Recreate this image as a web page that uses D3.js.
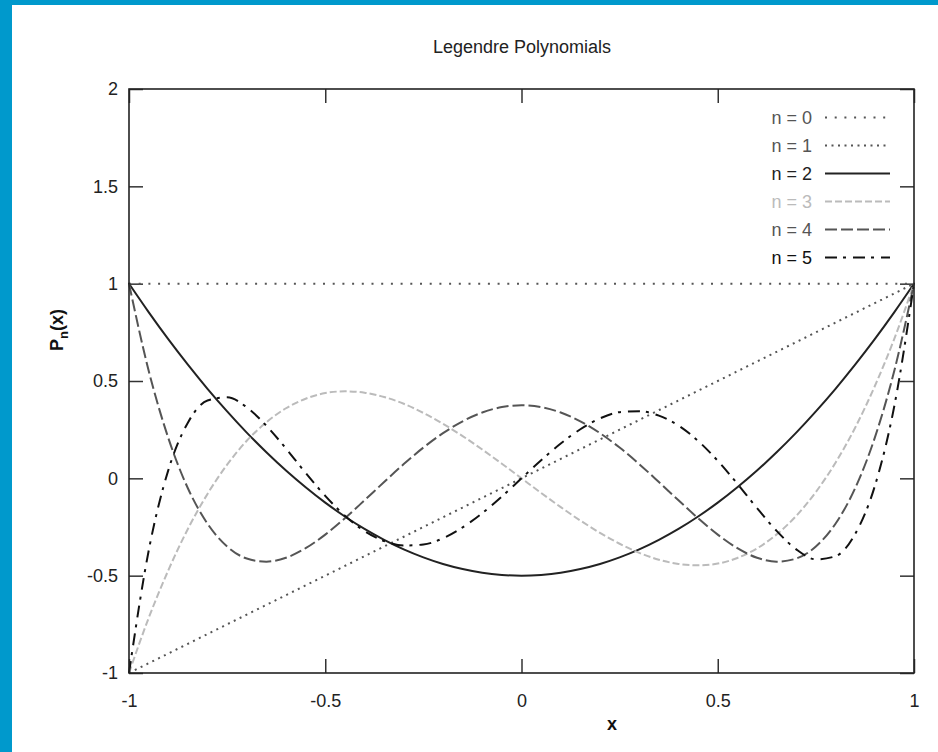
<!DOCTYPE html>
<html>
<head>
<meta charset="utf-8">
<script src="https://cdn.jsdelivr.net/npm/d3@7"></script>
<style>
  html, body { margin: 0; padding: 0; background: #fff; }
  svg { display: block; font-family: "Liberation Sans", Arial, sans-serif; }
</style>
</head>
<body>
<svg id="chart" width="938" height="752"></svg>
<script>
// sample positions along x
var xs = [-1, -0.95, -0.9, -0.85, -0.8, -0.75, -0.7, -0.65, -0.6, -0.55, -0.5, -0.45, -0.4, -0.35, -0.3, -0.25, -0.2, -0.15, -0.1, -0.05,
  0, 0.05, 0.1, 0.15, 0.2, 0.25, 0.3, 0.35, 0.4, 0.45, 0.5, 0.55, 0.6, 0.65, 0.7, 0.75, 0.8, 0.85, 0.9, 0.95, 1];

var p0 = [1, 1, 1, 1, 1, 1, 1, 1, 1, 1, 1, 1, 1, 1, 1, 1, 1, 1, 1, 1,
  1, 1, 1, 1, 1, 1, 1, 1, 1, 1, 1, 1, 1, 1, 1, 1, 1, 1, 1, 1, 1];
var p1 = [-1, -0.95, -0.9, -0.85, -0.8, -0.75, -0.7, -0.65, -0.6, -0.55, -0.5, -0.45, -0.4, -0.35, -0.3, -0.25, -0.2, -0.15, -0.1, -0.05,
  0, 0.05, 0.1, 0.15, 0.2, 0.25, 0.3, 0.35, 0.4, 0.45, 0.5, 0.55, 0.6, 0.65, 0.7, 0.75, 0.8, 0.85, 0.9, 0.95, 1];
var p2 = [1, 0.854, 0.715, 0.584, 0.46, 0.344, 0.235, 0.134, 0.04, -0.046, -0.125, -0.196, -0.26, -0.316, -0.365, -0.406, -0.44, -0.466, -0.485, -0.496,
  -0.5, -0.496, -0.485, -0.466, -0.44, -0.406, -0.365, -0.316, -0.26, -0.196, -0.125, -0.046, 0.04, 0.134, 0.235, 0.344, 0.46, 0.584, 0.715, 0.854, 1];
var p3 = [-1, -0.718, -0.473, -0.26, -0.08, 0.07, 0.193, 0.288, 0.36, 0.409, 0.438, 0.447, 0.44, 0.418, 0.383, 0.336, 0.28, 0.217, 0.148, 0.075,
  0, -0.075, -0.148, -0.217, -0.28, -0.336, -0.383, -0.418, -0.44, -0.447, -0.438, -0.409, -0.36, -0.288, -0.193, -0.07, 0.08, 0.26, 0.473, 0.718, 1];
var p4 = [1, 0.554, 0.208, -0.051, -0.233, -0.35, -0.412, -0.428, -0.408, -0.359, -0.289, -0.205, -0.113, -0.019, 0.073, 0.158, 0.232, 0.293, 0.338, 0.366,
  0.375, 0.366, 0.338, 0.293, 0.232, 0.158, 0.073, -0.019, -0.113, -0.205, -0.289, -0.359, -0.408, -0.428, -0.412, -0.35, -0.233, -0.051, 0.208, 0.554, 1];
var p5 = [-1, -0.373, 0.041, 0.286, 0.4, 0.416, 0.365, 0.27, 0.153, 0.028, -0.09, -0.192, -0.271, -0.322, -0.345, -0.34, -0.308, -0.252, -0.179, -0.093,
  0, 0.093, 0.179, 0.252, 0.308, 0.34, 0.345, 0.322, 0.271, 0.192, 0.09, -0.028, -0.153, -0.27, -0.365, -0.416, -0.4, -0.286, -0.041, 0.373, 1];

var seriesLabels = ['n = 0', 'n = 1', 'n = 2', 'n = 3', 'n = 4', 'n = 5'];
var seriesValues = [p0, p1, p2, p3, p4, p5];

var xTicks = [-1, -0.5, 0, 0.5, 1];
var yTicks = [-1, -0.5, 0, 0.5, 1, 1.5, 2];

var styles = [
  { color: '#555', width: 2, dash: '2,7.7' },
  { color: '#555', width: 2, dash: '2,4.5' },
  { color: '#222', width: 2, dash: null },
  { color: '#bbb', width: 2, dash: '7,3' },
  { color: '#555', width: 2, dash: '12,4' },
  { color: '#111', width: 2, dash: '12,6,3,7' }
];

var svg = d3.select('#chart');
var W = 938, H = 752;
var plot = { left: 129, top: 89, right: 914, bottom: 673 };
var fontSize = '18px';

svg.append('rect').attr('width', W).attr('height', H).attr('fill', '#fff');
svg.append('rect').attr('x', 0).attr('y', 0).attr('width', 12).attr('height', H).attr('fill', '#0099cc');
svg.append('rect').attr('x', 0).attr('y', 0).attr('width', W).attr('height', 5).attr('fill', '#0099cc');

var xScale = d3.scaleLinear().domain([-1, 1]).range([plot.left, plot.right]);
var yScale = d3.scaleLinear().domain([-1, 2]).range([plot.bottom, plot.top]);

var tickLen = 14;

// ticks, mirrored on all sides, pointing inward
var axisG = svg.append('g').attr('class', 'axes');

var fmt = function(d) { return String(d); };

var xBottom = d3.axisBottom(xScale).tickValues(xTicks).tickSize(-tickLen).tickPadding(21).tickFormat(fmt);
var xTop = d3.axisTop(xScale).tickValues(xTicks).tickSize(-tickLen).tickFormat('');
var yLeft = d3.axisLeft(yScale).tickValues(yTicks).tickSize(-tickLen).tickPadding(11).tickFormat(fmt);
var yRight = d3.axisRight(yScale).tickValues(yTicks).tickSize(-tickLen).tickFormat('');

function styleAxis(g) {
  g.select('.domain').remove();
  g.selectAll('.tick line').attr('stroke', '#333').attr('stroke-width', 1.5);
  g.selectAll('.tick text')
    .attr('fill', '#222')
    .style('font-size', fontSize)
    .style('font-family', '"Liberation Sans", Arial, sans-serif');
}

axisG.append('g').attr('transform', 'translate(0,' + plot.bottom + ')').call(xBottom).call(styleAxis);
axisG.append('g').attr('transform', 'translate(0,' + plot.top + ')').call(xTop).call(styleAxis);
axisG.append('g').attr('transform', 'translate(' + plot.left + ',0)').call(yLeft).call(styleAxis);
axisG.append('g').attr('transform', 'translate(' + plot.right + ',0)').call(yRight).call(styleAxis);

// curves
var line = d3.line()
  .x(function(d) { return xScale(d[0]); })
  .y(function(d) { return yScale(d[1]); })
  .curve(d3.curveMonotoneX);

svg.append('defs').append('clipPath').attr('id', 'clip')
  .append('rect')
  .attr('x', plot.left - 1).attr('y', plot.top)
  .attr('width', plot.right - plot.left + 2).attr('height', plot.bottom - plot.top);

var curves = svg.append('g').attr('class', 'curves').attr('clip-path', 'url(#clip)');

seriesValues.forEach(function(vals, i) {
  var pts = xs.map(function(x, j) { return [x, vals[j]]; });
  var s = styles[i];
  curves.append('path')
    .datum(pts)
    .attr('d', line)
    .attr('fill', 'none')
    .attr('stroke', s.color)
    .attr('stroke-width', s.width)
    .attr('stroke-linecap', s.dash ? 'butt' : 'round')
    .attr('stroke-dasharray', s.dash);
});

// frame
svg.append('rect')
  .attr('x', plot.left).attr('y', plot.top)
  .attr('width', plot.right - plot.left).attr('height', plot.bottom - plot.top)
  .attr('fill', 'none').attr('stroke', '#222').attr('stroke-width', 1.6);

// legend
var legend = svg.append('g').attr('class', 'legend');
seriesLabels.forEach(function(lbl, i) {
  var y = 117.5 + i * 28;
  var s = styles[i];
  legend.append('text')
    .attr('x', 812).attr('y', y)
    .attr('dy', '0.35em')
    .attr('text-anchor', 'end')
    .attr('fill', s.color)
    .style('font-size', fontSize)
    .text(lbl);
  legend.append('line')
    .attr('x1', 825).attr('x2', 890)
    .attr('y1', y).attr('y2', y)
    .attr('stroke', s.color)
    .attr('stroke-width', s.width)
    .attr('stroke-dasharray', s.dash);
});

// title and axis labels
svg.append('text')
  .attr('x', 522).attr('y', 53)
  .attr('text-anchor', 'middle')
  .attr('fill', '#222')
  .style('font-size', fontSize)
  .text('Legendre Polynomials');

svg.append('text')
  .attr('x', 612).attr('y', 730)
  .attr('text-anchor', 'middle')
  .attr('fill', '#111')
  .style('font-size', fontSize)
  .style('font-weight', 'bold')
  .text('x');

var yl = svg.append('text')
  .attr('transform', 'translate(63,330) rotate(-90)')
  .attr('text-anchor', 'middle')
  .attr('fill', '#111')
  .style('font-size', fontSize)
  .style('font-weight', 'bold');
yl.append('tspan').text('P');
yl.append('tspan').attr('dy', 5).style('font-size', '13px').text('n');
yl.append('tspan').attr('dy', -5).text('(x)');
</script>
</body>
</html>
